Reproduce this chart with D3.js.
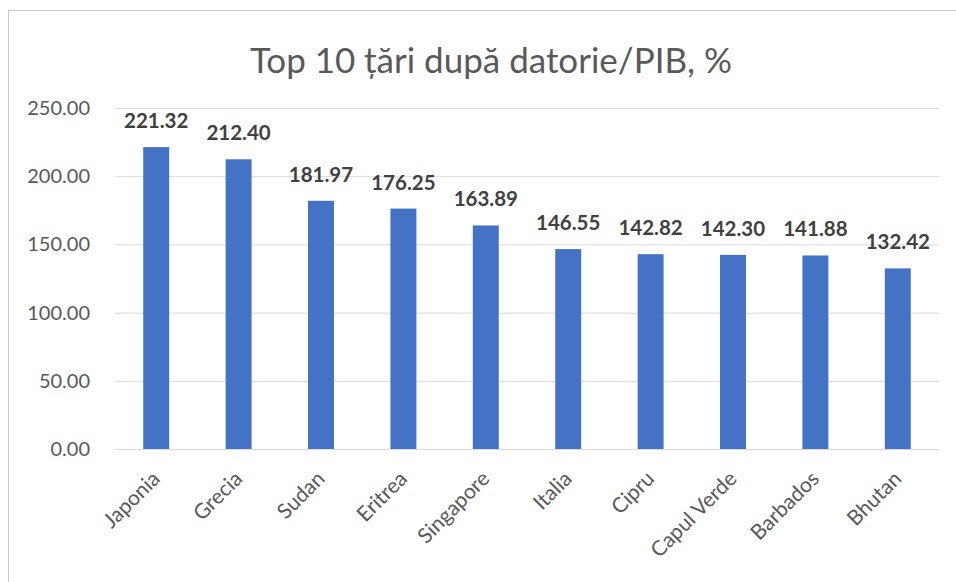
<!DOCTYPE html>
<head>
  <meta charset="utf-8">
  <script src="https://d3js.org/d3.v7.min.js"></script>
  <style>
    body { margin:0; background:#fff; }
    text { font-family: Lato, "Open Sans", sans-serif; }
  </style>
</head>

<body>
  <svg width="956" height="582" id="chart"></svg>
<script>
  var countries = ["Japonia", "Grecia", "Sudan", "Eritrea", "Singapore", "Italia", "Cipru", "Capul Verde", "Barbados", "Bhutan"];
  var debtRatio = [221.32, 212.40, 181.97, 176.25, 163.89, 146.55, 142.82, 142.30, 141.88, 132.42];
  var yTicks = [0, 50, 100, 150, 200, 250];
  var title = "Top 10 țări după datorie/PIB, %";

  var svg = d3.select("#chart"),
    margin = {top: 108, right: 17, bottom: 133, left: 115},
    width = svg.attr("width") - margin.left - margin.right,
    height = svg.attr("height") - margin.top - margin.bottom;

  // chart frame, right and bottom edges fall outside the picture
  svg.append("rect")
    .attr("x", 8.5).attr("y", 10.5)
    .attr("width", 960).attr("height", 600)
    .attr("fill", "#fff")
    .attr("stroke", "#c8c8c8");

  svg.append("text")
    .attr("x", 491).attr("y", 73)
    .attr("text-anchor", "middle")
    .attr("font-size", 35)
    .attr("fill", "#595959")
    .text(title);

  var g = svg.append("g").attr("transform", "translate(" + margin.left + "," + margin.top + ")");

  var x = d3.scaleBand().domain(countries).range([0, width]).paddingInner(0.685).paddingOuter(0.3425),
      y = d3.scaleLinear().domain([0, 250]).range([height, 0]);

  // gridlines
  g.append("g")
    .attr("class", "grid")
    .call(d3.axisRight(y).tickValues(yTicks).tickSize(width).tickFormat(""))
    .call(function(s) {
      s.select(".domain").remove();
      s.selectAll("line").attr("stroke", "#d9d9d9");
    });

  // y axis labels
  g.append("g")
    .call(d3.axisLeft(y).tickValues(yTicks).tickSize(0).tickPadding(25).tickFormat(d3.format(".2f")))
    .call(function(s) {
      s.select(".domain").remove();
      s.selectAll("text").attr("font-size", 20).attr("fill", "#595959").attr("font-family", "Lato, sans-serif");
    });

  g.selectAll(".bar").data(debtRatio).enter().append("rect")
    .attr("class", "bar")
    .attr("fill", "#4472c4")
    .attr("x", function(d, i) { return x(countries[i]); })
    .attr("width", x.bandwidth())
    .attr("y", function(d) { return y(d); })
    .attr("height", function(d) { return height - y(d); });

  g.selectAll(".val").data(debtRatio).enter().append("text")
    .attr("class", "val")
    .attr("text-anchor", "middle")
    .attr("font-size", 20.5)
    .attr("font-weight", "bold")
    .attr("fill", "#404040")
    .attr("x", function(d, i) { return x(countries[i]) + x.bandwidth() / 2; })
    .attr("y", function(d) { return y(d) - 19; })
    .text(function(d) { return d.toFixed(2); });

  // x axis, zero line + rotated labels
  g.append("g")
    .attr("transform", "translate(0," + height + ")")
    .call(d3.axisBottom(x).tickSize(0).tickPadding(0))
    .call(function(s) {
      s.select(".domain").attr("stroke", "#d9d9d9");
      s.selectAll("text")
        .attr("font-size", 21)
        .attr("fill", "#595959")
        .attr("font-family", "Lato, sans-serif")
        .attr("text-anchor", "end")
        .attr("dy", null)
        .attr("transform", "translate(5,31) rotate(-45)");
    });
</script>
</body>
